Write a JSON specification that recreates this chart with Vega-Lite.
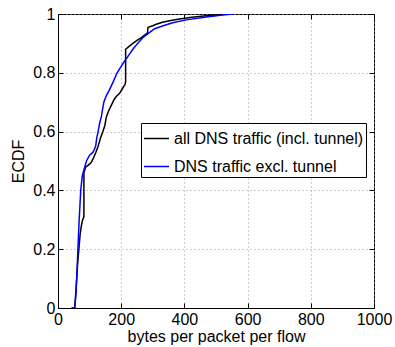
{
  "$schema": "https://vega.github.io/schema/vega-lite/v6.json",
  "width": 316,
  "height": 294,
  "autosize": "none",
  "padding": {"left": 58, "top": 14, "right": 21, "bottom": 39},
  "background": "white",
  "config": {
    "font": "Liberation Sans",
    "view": {"stroke": "black", "strokeWidth": 1},
    "axis": {
      "labelFont": "Liberation Sans",
      "titleFont": "Liberation Sans",
      "labelFontSize": 16,
      "titleFontSize": 16,
      "labelColor": "black",
      "titleColor": "black",
      "titleFontWeight": "normal",
      "domainColor": "black",
      "tickColor": "black",
      "gridColor": "#999999",
      "gridDash": [1, 3],
      "gridWidth": 1
    }
  },
  "data": {
    "values": [
      {"s": "all DNS traffic (incl. tunnel)", "i": 0, "x": 45, "y": 0},
      {"s": "all DNS traffic (incl. tunnel)", "i": 1, "x": 53, "y": 0},
      {"s": "all DNS traffic (incl. tunnel)", "i": 2, "x": 58, "y": 0.08},
      {"s": "all DNS traffic (incl. tunnel)", "i": 3, "x": 62, "y": 0.15},
      {"s": "all DNS traffic (incl. tunnel)", "i": 4, "x": 66, "y": 0.2},
      {"s": "all DNS traffic (incl. tunnel)", "i": 5, "x": 70, "y": 0.25},
      {"s": "all DNS traffic (incl. tunnel)", "i": 6, "x": 74, "y": 0.28},
      {"s": "all DNS traffic (incl. tunnel)", "i": 7, "x": 78, "y": 0.3},
      {"s": "all DNS traffic (incl. tunnel)", "i": 8, "x": 82, "y": 0.31},
      {"s": "all DNS traffic (incl. tunnel)", "i": 9, "x": 82, "y": 0.46},
      {"s": "all DNS traffic (incl. tunnel)", "i": 10, "x": 88, "y": 0.48},
      {"s": "all DNS traffic (incl. tunnel)", "i": 11, "x": 95, "y": 0.485},
      {"s": "all DNS traffic (incl. tunnel)", "i": 12, "x": 105, "y": 0.495},
      {"s": "all DNS traffic (incl. tunnel)", "i": 13, "x": 112, "y": 0.51},
      {"s": "all DNS traffic (incl. tunnel)", "i": 14, "x": 120, "y": 0.53},
      {"s": "all DNS traffic (incl. tunnel)", "i": 15, "x": 127, "y": 0.55},
      {"s": "all DNS traffic (incl. tunnel)", "i": 16, "x": 135, "y": 0.58},
      {"s": "all DNS traffic (incl. tunnel)", "i": 17, "x": 142, "y": 0.6},
      {"s": "all DNS traffic (incl. tunnel)", "i": 18, "x": 148, "y": 0.62},
      {"s": "all DNS traffic (incl. tunnel)", "i": 19, "x": 153, "y": 0.65},
      {"s": "all DNS traffic (incl. tunnel)", "i": 20, "x": 160, "y": 0.67},
      {"s": "all DNS traffic (incl. tunnel)", "i": 21, "x": 169, "y": 0.69},
      {"s": "all DNS traffic (incl. tunnel)", "i": 22, "x": 178, "y": 0.71},
      {"s": "all DNS traffic (incl. tunnel)", "i": 23, "x": 185, "y": 0.72},
      {"s": "all DNS traffic (incl. tunnel)", "i": 24, "x": 195, "y": 0.73},
      {"s": "all DNS traffic (incl. tunnel)", "i": 25, "x": 206, "y": 0.75},
      {"s": "all DNS traffic (incl. tunnel)", "i": 26, "x": 212, "y": 0.76},
      {"s": "all DNS traffic (incl. tunnel)", "i": 27, "x": 214, "y": 0.77},
      {"s": "all DNS traffic (incl. tunnel)", "i": 28, "x": 214, "y": 0.88},
      {"s": "all DNS traffic (incl. tunnel)", "i": 29, "x": 225, "y": 0.89},
      {"s": "all DNS traffic (incl. tunnel)", "i": 30, "x": 237, "y": 0.9},
      {"s": "all DNS traffic (incl. tunnel)", "i": 31, "x": 250, "y": 0.91},
      {"s": "all DNS traffic (incl. tunnel)", "i": 32, "x": 264, "y": 0.92},
      {"s": "all DNS traffic (incl. tunnel)", "i": 33, "x": 276, "y": 0.93},
      {"s": "all DNS traffic (incl. tunnel)", "i": 34, "x": 283, "y": 0.935},
      {"s": "all DNS traffic (incl. tunnel)", "i": 35, "x": 285, "y": 0.955},
      {"s": "all DNS traffic (incl. tunnel)", "i": 36, "x": 300, "y": 0.96},
      {"s": "all DNS traffic (incl. tunnel)", "i": 37, "x": 311, "y": 0.965},
      {"s": "all DNS traffic (incl. tunnel)", "i": 38, "x": 331, "y": 0.972},
      {"s": "all DNS traffic (incl. tunnel)", "i": 39, "x": 353, "y": 0.977},
      {"s": "all DNS traffic (incl. tunnel)", "i": 40, "x": 380, "y": 0.982},
      {"s": "all DNS traffic (incl. tunnel)", "i": 41, "x": 417, "y": 0.988},
      {"s": "all DNS traffic (incl. tunnel)", "i": 42, "x": 460, "y": 0.993},
      {"s": "all DNS traffic (incl. tunnel)", "i": 43, "x": 500, "y": 0.997},
      {"s": "all DNS traffic (incl. tunnel)", "i": 44, "x": 540, "y": 1},
      {"s": "DNS traffic excl. tunnel", "i": 0, "x": 42, "y": 0},
      {"s": "DNS traffic excl. tunnel", "i": 1, "x": 53, "y": 0},
      {"s": "DNS traffic excl. tunnel", "i": 2, "x": 57, "y": 0.05},
      {"s": "DNS traffic excl. tunnel", "i": 3, "x": 60, "y": 0.12},
      {"s": "DNS traffic excl. tunnel", "i": 4, "x": 63, "y": 0.2},
      {"s": "DNS traffic excl. tunnel", "i": 5, "x": 67, "y": 0.3},
      {"s": "DNS traffic excl. tunnel", "i": 6, "x": 72, "y": 0.4},
      {"s": "DNS traffic excl. tunnel", "i": 7, "x": 77, "y": 0.45},
      {"s": "DNS traffic excl. tunnel", "i": 8, "x": 82, "y": 0.47},
      {"s": "DNS traffic excl. tunnel", "i": 9, "x": 90, "y": 0.5},
      {"s": "DNS traffic excl. tunnel", "i": 10, "x": 100, "y": 0.52},
      {"s": "DNS traffic excl. tunnel", "i": 11, "x": 111, "y": 0.53},
      {"s": "DNS traffic excl. tunnel", "i": 12, "x": 119, "y": 0.55},
      {"s": "DNS traffic excl. tunnel", "i": 13, "x": 123, "y": 0.58},
      {"s": "DNS traffic excl. tunnel", "i": 14, "x": 127, "y": 0.6},
      {"s": "DNS traffic excl. tunnel", "i": 15, "x": 132, "y": 0.63},
      {"s": "DNS traffic excl. tunnel", "i": 16, "x": 137, "y": 0.65},
      {"s": "DNS traffic excl. tunnel", "i": 17, "x": 145, "y": 0.7},
      {"s": "DNS traffic excl. tunnel", "i": 18, "x": 152, "y": 0.72},
      {"s": "DNS traffic excl. tunnel", "i": 19, "x": 162, "y": 0.74},
      {"s": "DNS traffic excl. tunnel", "i": 20, "x": 175, "y": 0.77},
      {"s": "DNS traffic excl. tunnel", "i": 21, "x": 187, "y": 0.8},
      {"s": "DNS traffic excl. tunnel", "i": 22, "x": 199, "y": 0.82},
      {"s": "DNS traffic excl. tunnel", "i": 23, "x": 211, "y": 0.84},
      {"s": "DNS traffic excl. tunnel", "i": 24, "x": 224, "y": 0.86},
      {"s": "DNS traffic excl. tunnel", "i": 25, "x": 237, "y": 0.88},
      {"s": "DNS traffic excl. tunnel", "i": 26, "x": 252, "y": 0.9},
      {"s": "DNS traffic excl. tunnel", "i": 27, "x": 269, "y": 0.92},
      {"s": "DNS traffic excl. tunnel", "i": 28, "x": 287, "y": 0.935},
      {"s": "DNS traffic excl. tunnel", "i": 29, "x": 306, "y": 0.95},
      {"s": "DNS traffic excl. tunnel", "i": 30, "x": 333, "y": 0.96},
      {"s": "DNS traffic excl. tunnel", "i": 31, "x": 363, "y": 0.97},
      {"s": "DNS traffic excl. tunnel", "i": 32, "x": 406, "y": 0.98},
      {"s": "DNS traffic excl. tunnel", "i": 33, "x": 470, "y": 0.99},
      {"s": "DNS traffic excl. tunnel", "i": 34, "x": 520, "y": 0.997},
      {"s": "DNS traffic excl. tunnel", "i": 35, "x": 555, "y": 1}
    ]
  },
  "layer": [
    {
      "mark": {"type": "line", "strokeWidth": 1.5, "clip": true},
      "encoding": {
        "x": {
          "field": "x",
          "type": "quantitative",
          "scale": {"domain": [0, 1000], "nice": false},
          "axis": {
            "title": "bytes per packet per flow",
            "values": [0, 200, 400, 600, 800, 1000],
            "format": "d",
            "grid": true,
            "tickSize": -5,
            "labelPadding": 8,
            "titlePadding": 1,
            "labelFlush": false
          }
        },
        "y": {
          "field": "y",
          "type": "quantitative",
          "scale": {"domain": [0, 1], "nice": false},
          "axis": {
            "title": "ECDF",
            "values": [0, 0.2, 0.4, 0.6, 0.8, 1],
            "format": "~g",
            "grid": true,
            "tickSize": -5,
            "labelPadding": 8,
            "titlePadding": 6,
            "labelFlush": false
          }
        },
        "color": {
          "field": "s",
          "type": "nominal",
          "scale": {
            "domain": ["all DNS traffic (incl. tunnel)", "DNS traffic excl. tunnel"],
            "range": ["#000000", "#0000ff"]
          },
          "legend": {
            "title": null,
            "orient": "none",
            "legendX": 83,
            "legendY": 109,
            "direction": "vertical",
            "symbolType": "stroke",
            "symbolSize": 625,
            "symbolStrokeWidth": 1.5,
            "labelFont": "Liberation Sans",
            "labelFontSize": 16,
            "labelColor": "black",
            "labelOffset": 4,
            "rowPadding": 6,
            "padding": 2,
            "strokeColor": "black",
            "fillColor": "white",
            "labelLimit": 400
          }
        },
        "order": {"field": "i", "type": "quantitative"}
      }
    },
    {
      "mark": {"type": "line", "strokeOpacity": 0},
      "encoding": {
        "x": {
          "field": "x",
          "type": "quantitative",
          "axis": {
            "orient": "top",
            "title": null,
            "values": [0, 200, 400, 600, 800, 1000],
            "labels": false,
            "domain": false,
            "grid": false,
            "tickSize": -5
          }
        },
        "y": {
          "field": "y",
          "type": "quantitative",
          "axis": {
            "orient": "right",
            "title": null,
            "values": [0, 0.2, 0.4, 0.6, 0.8, 1],
            "labels": false,
            "domain": false,
            "grid": false,
            "tickSize": -5
          }
        },
        "detail": {"field": "s", "type": "nominal"}
      }
    }
  ],
  "resolve": {"axis": {"x": "independent", "y": "independent"}}
}
